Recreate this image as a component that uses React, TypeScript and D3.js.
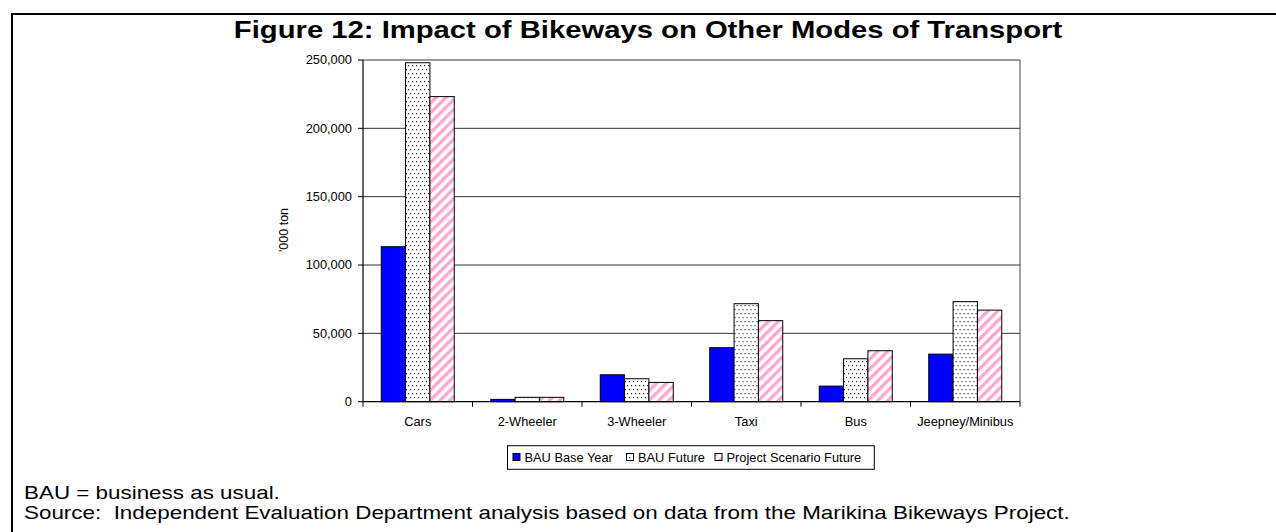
import React from "react";
import * as d3 from "d3";

const categories = ["Cars", "2-Wheeler", "3-Wheeler", "Taxi", "Bus", "Jeepney/Minibus"];
const seriesNames = ["BAU Base Year", "BAU Future", "Project Scenario Future"];
const bauBaseYear = [113400, 1700, 19700, 39500, 11400, 34800];
const bauFuture = [248000, 3200, 16800, 71700, 31400, 73200];
const projectScenarioFuture = [223200, 3200, 14100, 59300, 37300, 67000];
const yTicks = [0, 50000, 100000, 150000, 200000, 250000];
const titleText = "Figure 12: Impact of Bikeways on Other Modes of Transport";
const yAxisLabel = "'000 ton";
const noteLines = [
  "BAU = business as usual.",
  "Source:  Independent Evaluation Department analysis based on data from the Marikina Bikeways Project.",
];

const W = 1276;
const H = 532;
const K_TITLE = 1.25;
const K_NOTE = 1.245;
const K_CHART = 1.07;
const FONT = "'Liberation Sans', Arial, Helvetica, sans-serif";
const fills = ["#0000ff", "url(#dots)", "url(#stripes)"];

const plot = { left: 363, right: 1020, top: 60, bottom: 401.7 };

function T(props: {
  x: number;
  y: number;
  size: number;
  k: number;
  anchor?: string;
  weight?: string;
  rotate?: boolean;
  children: React.ReactNode;
}) {
  const { x, y, size, k, anchor = "start", weight = "normal", rotate = false, children } = props;
  return (
    <text
      transform={`translate(${x},${y}) scale(${k},1)${rotate ? " rotate(-90)" : ""}`}
      fontFamily={FONT}
      fontSize={size}
      fontWeight={weight}
      textAnchor={anchor}
      fill="#000"
      style={{ whiteSpace: "pre" }}
    >
      {children}
    </text>
  );
}

export default function App() {
  const data = categories.map((c, i) => ({
    category: c,
    values: [bauBaseYear[i], bauFuture[i], projectScenarioFuture[i]],
  }));

  const x0 = d3.scaleBand<string>().domain(categories).range([plot.left, plot.right]).padding(0);
  const x1 = d3
    .scaleBand<string>()
    .domain(seriesNames)
    .range([0, x0.bandwidth()])
    .paddingInner(0)
    .paddingOuter(0.75);
  const y = d3.scaleLinear().domain([0, 250000]).range([plot.bottom, plot.top]);
  const fmt = d3.format(",");

  const boundaries = [plot.left, ...categories.map((c) => (x0(c) as number) + x0.bandwidth())];

  const legendItems = [
    { marker: 513, text: 524.5 },
    { marker: 626.5, text: 638 },
    { marker: 715, text: 726.5 },
  ];

  return (
    <svg
      width={W}
      height={H}
      viewBox={`0 0 ${W} ${H}`}
      style={{ position: "absolute", left: 0, top: 0, display: "block", background: "#fff" }}
    >
      <defs>
        <pattern id="dots" width="4" height="8" patternUnits="userSpaceOnUse">
          <rect width="4" height="8" fill="#fff" />
          <rect x="1" y="1" width="1.2" height="1.2" fill="#222" />
          <rect x="3" y="5" width="1.2" height="1.2" fill="#222" />
        </pattern>
        <pattern
          id="stripes"
          width="7"
          height="7"
          patternUnits="userSpaceOnUse"
          patternTransform="rotate(45)"
        >
          <rect width="7" height="7" fill="#fff" />
          <rect x="0" y="0" width="3.3" height="7" fill="#ffa6d2" />
        </pattern>
      </defs>

      <rect x={0} y={0} width={W} height={H} fill="#fff" />
      {/* outer frame */}
      <line x1={12} y1={14} x2={W} y2={14} stroke="#000" strokeWidth={2} />
      <line x1={12} y1={13} x2={12} y2={H} stroke="#000" strokeWidth={2} />

      <T x={648} y={38} size={23.4} k={K_TITLE} anchor="middle" weight="bold">
        {titleText}
      </T>

      {/* gridlines */}
      {yTicks
        .filter((t) => t > 0)
        .map((t) => (
          <line key={t} x1={plot.left} x2={plot.right} y1={y(t)} y2={y(t)} stroke="#333" strokeWidth={1} />
        ))}
      {/* plot area right border */}
      <line x1={plot.right} x2={plot.right} y1={plot.top} y2={plot.bottom} stroke="#444" strokeWidth={1} />

      {/* bars */}
      {data.map((d) => (
        <g key={d.category} transform={`translate(${x0(d.category)},0)`}>
          {d.values.map((v, j) => (
            <rect
              key={j}
              x={x1(seriesNames[j])}
              y={y(v)}
              width={x1.bandwidth()}
              height={y(0) - y(v)}
              fill={fills[j]}
              stroke="#000"
              strokeWidth={1}
            />
          ))}
        </g>
      ))}

      {/* y axis */}
      <line x1={plot.left} x2={plot.left} y1={plot.top} y2={plot.bottom} stroke="#000" strokeWidth={1.2} />
      {yTicks.map((t) => (
        <g key={t}>
          <line x1={plot.left - 5} x2={plot.left} y1={y(t)} y2={y(t)} stroke="#000" strokeWidth={1} />
          <T x={352} y={y(t) + 4.2} size={12} k={K_CHART} anchor="end">
            {fmt(t)}
          </T>
        </g>
      ))}
      <T x={288} y={230} size={12.5} k={K_CHART} anchor="middle" rotate>
        {yAxisLabel}
      </T>

      {/* x axis */}
      <line x1={plot.left} x2={plot.right} y1={plot.bottom} y2={plot.bottom} stroke="#000" strokeWidth={1.2} />
      {boundaries.map((b, i) => (
        <line key={i} x1={b} x2={b} y1={plot.bottom} y2={plot.bottom + 5} stroke="#000" strokeWidth={1} />
      ))}
      {categories.map((c) => (
        <T key={c} x={(x0(c) as number) + x0.bandwidth() / 2} y={426} size={12} k={K_CHART} anchor="middle">
          {c}
        </T>
      ))}

      {/* legend */}
      <rect x={507.5} y={445.7} width={366.8} height={23.6} fill="#fff" stroke="#000" strokeWidth={1} />
      {seriesNames.map((s, i) => (
        <g key={s}>
          <rect
            x={legendItems[i].marker}
            y={453.5}
            width={7}
            height={7}
            fill={fills[i]}
            stroke="#000"
            strokeWidth={1}
          />
          <T x={legendItems[i].text} y={462} size={12} k={K_CHART}>
            {s}
          </T>
        </g>
      ))}

      {/* notes */}
      {noteLines.map((l, i) => (
        <T key={i} x={24} y={499.3 + i * 20} size={18} k={K_NOTE}>
          {l}
        </T>
      ))}
    </svg>
  );
}
